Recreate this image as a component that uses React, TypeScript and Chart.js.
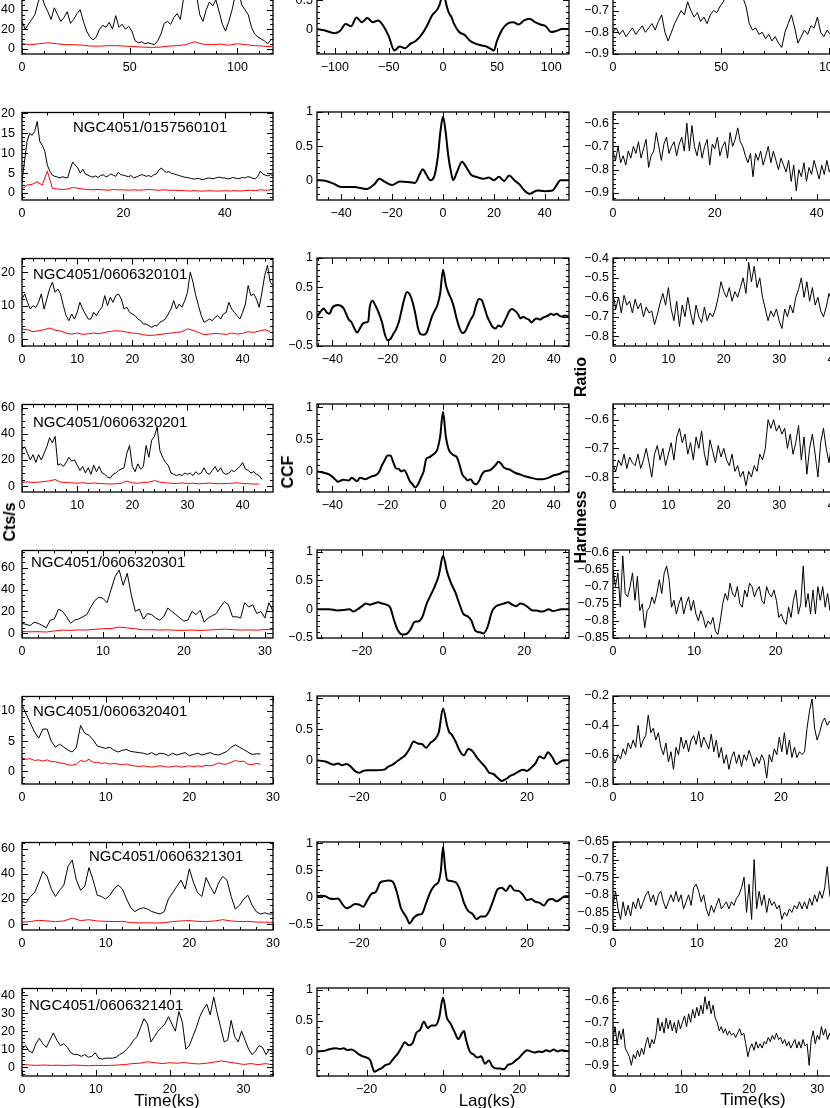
import React, { useEffect, useRef } from "react";
import { Chart, registerables } from "chart.js";

Chart.register(...registerables);

const FONT = "'Liberation Sans', Arial, sans-serif";

// ---------------- Row 1 (top, cropped) ----------------
const r1Bin = 1.5;
const r1Black = [28,20,25,30,35,48,55,45,38,30,42,35,28,32,38,26,30,36,40,28,18,12,9,12,20,24,22,27,20,34,22,25,20,23,18,8,6,7,5,6,5,4,8,15,26,28,25,32,36,30,52,58,50,62,55,35,28,40,48,44,50,38,25,18,28,40,55,60,45,40,35,22,15,12,10,8,5,9];
const r1RedBin = 4;
const r1Red = [5,4,5,6,5,4,4,3.5,2.5,2.5,3,3,2.5,2,1.5,1.2,1.5,2.5,3,4,7,4.5,4,4.5,3.5,5,4,3,2.5,2];
const r1Lag = [-116,-110,-100,-95,-90,-85,-80,-75,-70,-65,-60,-55,-50,-45,-40,-35,-30,-25,-20,-15,-10,-5,-2,0,2,5,8,10,15,20,25,30,35,40,45,47,50,55,60,65,70,75,80,85,90,95,100,105,110,116];
const r1Ccf = [0,-0.02,-0.07,-0.03,0.09,0.05,0.2,0.12,0.19,0.12,0.15,0.05,-0.13,-0.37,-0.3,-0.33,-0.25,-0.2,-0.1,0.05,0.24,0.35,0.5,0.8,0.52,0.3,0.2,0.1,-0.05,-0.1,-0.2,-0.25,-0.28,-0.3,-0.35,-0.37,-0.2,0.0,0.1,0.12,0.08,0.15,0.18,0.12,0.08,0.05,-0.05,-0.03,0,0];
const r1HrBin = 1.5;
const r1Hr = [-0.8,-0.78,-0.81,-0.79,-0.82,-0.8,-0.78,-0.81,-0.79,-0.77,-0.8,-0.78,-0.76,-0.79,-0.75,-0.72,-0.8,-0.84,-0.8,-0.76,-0.73,-0.7,-0.72,-0.66,-0.7,-0.73,-0.71,-0.75,-0.73,-0.76,-0.72,-0.7,-0.71,-0.68,-0.66,-0.62,-0.65,-0.6,-0.63,-0.58,-0.64,-0.68,-0.76,-0.79,-0.78,-0.81,-0.8,-0.83,-0.81,-0.84,-0.82,-0.85,-0.87,-0.8,-0.76,-0.72,-0.78,-0.85,-0.82,-0.79,-0.81,-0.77,-0.78,-0.73,-0.8,-0.82,-0.79,-0.81,-0.8,-0.82,-0.79,-0.81,-0.8,-0.83,-0.8,-0.82,-0.81,-0.8];

// ---------------- Row 2 : NGC4051/0157560101 ----------------
const r2Bin = 0.5;
const r2Black = [3,8,13,15,14.5,15.5,18,13,12,10.5,7,5.5,4.5,4.2,4,3.8,4.1,3.9,3.8,6,7.8,7,6.3,5,6,4.8,4.5,4.2,4,4.3,3.9,4.4,4.6,4.1,4.3,4.8,4.5,4.2,5.2,4.6,4.5,4.3,4.1,4.4,3.8,4,4.3,4.6,4.5,4.2,4.4,4.1,4.6,4.8,5.8,6.3,5.6,5.2,5.4,4.9,4.8,4.6,4.4,4.2,4,3.9,3.8,3.6,3.5,3.7,3.6,3.4,3.5,3.7,3.8,3.6,3.7,3.9,4,3.8,3.8,3.6,3.6,3.9,3.8,3.6,3.7,3.9,3.8,4.1,4,3.7,3.6,4.2,5.5,4.8,4.5,4.3,4.6,4.4];
const r2RedBin = 1;
const r2Red = [1,2,2.2,2.8,2,5.5,1.2,1,0.9,1,1.4,1.2,1,0.9,0.8,0.9,0.8,0.7,0.9,0.8,0.8,0.7,0.8,0.7,0.8,0.9,0.8,0.7,0.8,0.7,0.7,0.6,0.6,0.5,0.6,0.5,0.5,0.6,0.5,0.5,0.6,0.5,0.6,0.5,0.6,0.7,0.6,0.8,0.7,0.8];
const r2Lag = [-49.5,-46,-43,-40,-35,-30,-27,-25,-23,-20,-17,-13,-11,-9,-8,-6.5,-5,-3.5,-2,-1,0,1,2,3,4,5.5,7.5,9,11,13,16,18,20,22,24,26,28,30,32,34,37,40,43,45,46,49.5];
const r2Ccf = [0,-0.01,-0.05,-0.1,-0.1,-0.13,-0.06,0.02,-0.02,-0.07,-0.02,-0.03,-0.04,0.1,0.16,0.08,0,0.05,0.35,0.72,0.93,0.72,0.38,0.15,0,0.12,0.27,0.2,0.08,0.05,0.02,0.04,0,0.05,-0.01,0.07,0,-0.06,-0.15,-0.2,-0.15,-0.16,-0.15,-0.05,0,0];
const r2HrBin = 0.5;
const r2Hr = [-0.72,-0.76,-0.7,-0.77,-0.74,-0.78,-0.72,-0.75,-0.7,-0.73,-0.68,-0.75,-0.71,-0.67,-0.79,-0.74,-0.72,-0.64,-0.7,-0.76,-0.69,-0.66,-0.73,-0.7,-0.68,-0.74,-0.69,-0.66,-0.72,-0.6,-0.72,-0.61,-0.7,-0.74,-0.68,-0.75,-0.7,-0.67,-0.78,-0.69,-0.71,-0.66,-0.74,-0.7,-0.68,-0.75,-0.64,-0.7,-0.67,-0.62,-0.68,-0.7,-0.74,-0.77,-0.73,-0.83,-0.73,-0.76,-0.72,-0.78,-0.74,-0.7,-0.77,-0.72,-0.76,-0.8,-0.75,-0.78,-0.81,-0.76,-0.85,-0.78,-0.89,-0.8,-0.83,-0.77,-0.85,-0.79,-0.82,-0.76,-0.8,-0.84,-0.78,-0.82,-0.76,-0.81,-0.78,-0.83,-0.79,-0.82,-0.8,-0.78,-0.83,-0.8,-0.79,-0.82,-0.78,-0.81,-0.8,-0.79];

// ---------------- Row 3 : NGC4051/0606320101 ----------------
const r3Bin = 0.5;
const r3Black = [12,13.5,11,9,10,9.5,11,13.5,9,12,15,17,14,15,13.5,10,7,5.5,7.5,6,8,11,9,7.5,6,6,8,7,8.5,9.5,13,10,12.5,11,13,13.5,12,9,9.5,8,7.5,7,6,5.5,4.5,4.5,4,3.5,4,4,5,5.5,6,7.5,9,11.5,9,10.5,9.5,11.5,14,20,17,13,10,7,5,5.5,6,5.5,6.5,7,6,7.5,8,11,9,8,7,6,8,10.5,16,13,13.5,12,9.5,14,19,22,17,16];
const r3RedBin = 1;
const r3Red = [3,2.8,2.2,2.5,2.8,3.3,2.7,2.4,1.8,1.5,1.8,1.4,1.6,1.8,1.6,2,2.3,2.5,2.4,2.1,1.8,1.7,1.3,1.1,1.2,1.4,1.6,1.8,2,2.2,3.1,2.6,2,1.3,1.5,1.7,1.6,1.4,1.8,1.5,1.7,2.2,2,2.4,2.8,2.3];
const r3Lag = [-45.5,-44,-43,-42,-41,-40,-38,-36,-35,-34,-33,-32,-31,-30,-29,-28,-27,-26.5,-25.5,-24.5,-23.5,-22,-21,-20,-19,-18,-17,-16,-15,-14,-13,-12,-11,-10,-9,-8,-7,-6,-5,-4,-3,-2,-1,0,1,2,3,4,5,6,7,8,9,10,11,12,13,14,15,16,17,18,19,20,21,22,23,24,25,26,27,28,29,30,31,32,33,34,35,36,37,38,39,40,41,42,43,44,45.5];
const r3Ccf = [0,0.1,0.14,0.07,0.05,0.15,0.2,0.15,0.05,-0.05,-0.1,-0.2,-0.27,-0.2,-0.12,-0.1,-0.08,0.15,0.27,0.2,0.1,-0.1,-0.3,-0.4,-0.38,-0.3,-0.22,-0.1,0.1,0.3,0.42,0.38,0.25,0.05,-0.2,-0.3,-0.31,-0.28,-0.15,0,0.1,0.2,0.4,0.8,0.55,0.4,0.3,0.15,-0.05,-0.2,-0.28,-0.25,-0.15,-0.05,0.03,0.2,0.3,0.28,0.15,0,-0.1,-0.18,-0.2,-0.15,-0.17,-0.1,0,0.1,0.13,0.1,0.05,-0.03,0,-0.03,-0.05,-0.1,-0.05,-0.03,-0.05,-0.02,0,0.02,0.05,0.03,0.05,0.02,0,0.02,0];
const r3HrBin = 0.5;
const r3Hr = [-0.58,-0.66,-0.6,-0.68,-0.59,-0.64,-0.62,-0.68,-0.61,-0.66,-0.63,-0.7,-0.65,-0.68,-0.67,-0.74,-0.69,-0.63,-0.58,-0.64,-0.55,-0.66,-0.72,-0.62,-0.75,-0.64,-0.7,-0.6,-0.68,-0.74,-0.64,-0.7,-0.73,-0.65,-0.72,-0.68,-0.7,-0.66,-0.6,-0.52,-0.57,-0.6,-0.55,-0.62,-0.57,-0.6,-0.55,-0.5,-0.58,-0.42,-0.52,-0.44,-0.55,-0.5,-0.6,-0.66,-0.72,-0.67,-0.7,-0.66,-0.72,-0.76,-0.66,-0.7,-0.64,-0.68,-0.6,-0.56,-0.5,-0.6,-0.52,-0.62,-0.55,-0.64,-0.6,-0.67,-0.7,-0.65,-0.58,-0.62,-0.7,-0.64,-0.6,-0.68,-0.72,-0.63,-0.66,-0.6,-0.65,-0.7,-0.62,-0.66];

// ---------------- Row 4 : NGC4051/0606320201 ----------------
const r4Bin = 0.5;
const r4Black = [28,30,25,20,24,18,24,20,25,30,37,33,38,16,17,15,18,22,19,20,16,12,15,10,14,9,16,11,15,10,9,7,6,9,10,12,13,14,25,31,15,11,17,13,15,31,22,35,38,45,27,22,18,16,10,9,8,9,8,10,9,10,8,11,9,10,14,10,9,12,15,11,14,10,9,10,12,11,13,15,18,13,12,10,11,9,8,5];
const r4RedBin = 1;
const r4Red = [3,3.2,2.8,3,3.5,4,5,3,2.8,2.5,2.2,2.6,2,2.4,2,1.8,1.6,1.8,2.2,3.8,2.5,2.2,2.8,3,4.2,3,2.5,2.2,2,2.4,2,2.2,1.8,2,2.3,2,1.8,2,2.2,2.5,2,1.8,1.6,1.5];
const r4Lag = [-45.5,-43,-41,-39,-38,-36,-34,-33,-31,-30,-28,-26,-24,-23,-22,-21,-20,-19,-18,-17,-16,-15,-14,-13,-12,-11,-10,-9,-8,-7,-6,-5,-4,-3,-2,-1,0,1,2,3,4,5,6,7,8,9,10,11,12,13,14,15,17,19,20,21,22,24,26,28,30,32,34,36,38,40,42,44,45.5];
const r4Ccf = [0,-0.02,-0.05,-0.12,-0.16,-0.13,-0.14,-0.1,-0.15,-0.1,-0.12,-0.08,-0.05,0,0.1,0.18,0.25,0.25,0.15,0.05,0.04,0,0.02,-0.05,-0.15,-0.2,-0.25,-0.2,-0.1,0,0.2,0.22,0.25,0.28,0.35,0.55,0.93,0.55,0.35,0.28,0.25,0.22,0.1,-0.05,-0.1,-0.14,-0.12,-0.18,-0.2,-0.15,-0.05,0,0.02,0.1,0.15,0.12,0.06,0.03,-0.02,-0.05,-0.08,-0.1,-0.12,-0.12,-0.1,-0.06,-0.04,0,0];
const r4HrBin = 0.5;
const r4Hr = [-0.76,-0.78,-0.74,-0.76,-0.72,-0.77,-0.73,-0.75,-0.76,-0.72,-0.77,-0.74,-0.7,-0.75,-0.8,-0.72,-0.69,-0.74,-0.7,-0.76,-0.72,-0.68,-0.74,-0.66,-0.63,-0.68,-0.65,-0.72,-0.68,-0.74,-0.66,-0.7,-0.64,-0.72,-0.76,-0.67,-0.71,-0.75,-0.69,-0.73,-0.7,-0.74,-0.76,-0.72,-0.78,-0.76,-0.8,-0.78,-0.83,-0.78,-0.8,-0.76,-0.78,-0.72,-0.74,-0.7,-0.6,-0.63,-0.6,-0.64,-0.62,-0.65,-0.63,-0.7,-0.65,-0.72,-0.68,-0.62,-0.74,-0.66,-0.79,-0.7,-0.65,-0.72,-0.8,-0.68,-0.63,-0.7,-0.75,-0.68,-0.72,-0.66,-0.7,-0.74,-0.68,-0.71,-0.66,-0.7,-0.73,-0.69,-0.7];

// ---------------- Row 5 : NGC4051/0606320301 ----------------
const r5Bin = 0.5;
const r5Black = [9,8,7,10,9,7,5,12,13,22,20,15,9,12,13,15,17,24,30,33,32,28,40,52,58,44,55,35,20,22,13,18,17,14,12,15,23,20,17,14,11,12,20,17,21,10,14,16,18,24,29,26,15,15,14,28,24,26,18,20,14,28,20];
const r5RedBin = 1;
const r5Red = [1.5,1.2,1.3,1,2,2.8,2.5,3,2.8,3.5,4,4.2,5.5,4.8,4,3,3.2,2.8,3,2.6,2.5,2.8,2.4,2.8,3.2,3.6,3.2,2.8,3,2.7,3.2,3.6];
const r5Lag = [-31,-28,-26,-24,-23,-22,-21,-20,-19,-18,-17,-16,-15,-14,-13,-12,-11,-10,-9,-8,-7,-6,-5,-4,-3,-2,-1,0,1,2,3,4,5,6,7,8,9,10,11,12,13,14,15,16,17,18,19,20,21,22,23,24,25,26,27,28,29,31];
const r5Ccf = [0,0,-0.02,-0.01,0,-0.04,0,0.05,0.1,0.08,0.1,0.12,0.1,0.08,0.03,-0.2,-0.38,-0.44,-0.43,-0.35,-0.22,-0.21,-0.12,0.1,0.25,0.4,0.6,0.93,0.65,0.45,0.3,0.1,-0.08,-0.12,-0.2,-0.38,-0.4,-0.42,-0.3,-0.05,0.05,0.08,0.1,0.12,0.08,0.05,0.1,0.08,0.03,-0.02,-0.02,-0.04,-0.03,0,-0.03,-0.02,0,0];
const r5HrBin = 0.3;
const r5Hr = [-0.65,-0.7,-0.66,-0.76,-0.61,-0.72,-0.73,-0.7,-0.66,-0.74,-0.67,-0.77,-0.75,-0.82,-0.77,-0.76,-0.73,-0.75,-0.72,-0.68,-0.72,-0.66,-0.64,-0.68,-0.76,-0.74,-0.78,-0.75,-0.73,-0.78,-0.75,-0.73,-0.77,-0.74,-0.78,-0.8,-0.77,-0.79,-0.82,-0.8,-0.81,-0.79,-0.83,-0.84,-0.8,-0.75,-0.72,-0.74,-0.69,-0.72,-0.73,-0.7,-0.75,-0.76,-0.71,-0.73,-0.69,-0.7,-0.73,-0.71,-0.7,-0.74,-0.75,-0.7,-0.72,-0.73,-0.71,-0.74,-0.79,-0.78,-0.8,-0.81,-0.76,-0.79,-0.74,-0.71,-0.78,-0.75,-0.64,-0.76,-0.72,-0.78,-0.71,-0.78,-0.7,-0.74,-0.7,-0.76,-0.72,-0.77,-0.7,-0.74,-0.71,-0.76,-0.72,-0.75,-0.7,-0.73,-0.77,-0.72,-0.74,-0.7,-0.73,-0.72];

// ---------------- Row 6 : NGC4051/0606320401 ----------------
const r6Bin = 0.5;
const r6Black = [11,9.5,8,6.5,5.5,7,7,5,4,4.5,4,3.5,3.2,4,7.6,6.3,6,5.2,4.2,4,3.8,4,3.5,3.2,3.5,3.6,3.3,3.2,3.1,3,2.8,3.1,2.7,3,2.9,2.6,3,2.7,2.9,3.1,2.6,2.8,3,2.7,2.9,3.1,2.8,2.7,3,3.3,4,4.4,4,3.6,3.2,2.8,2.9,2.9];
const r6RedBin = 0.5;
const r6Red = [2.2,2,2.1,1.8,1.9,1.7,1.9,1.6,1.6,1.4,1.3,1.1,1,1.2,1.8,1.6,2,1.5,1.5,1.3,1.4,1.2,1.3,1.2,1.1,1.2,1,0.9,0.8,0.9,0.8,0.7,0.8,0.9,0.8,0.7,0.8,0.9,0.7,0.8,0.9,0.8,0.9,0.8,1,0.9,1.1,1.4,1.2,1.2,1.5,1.8,1.6,1.7,1.2,1.1,1.3,1.2];
const r6Lag = [-30,-28,-26,-25,-24,-23,-22,-21,-20,-19,-18,-16,-14,-13,-12,-11,-10,-9,-8,-7,-6,-5,-4,-3,-2,-1,0,1,1.5,2,3,4,5,6,7,8,9,10,11,12,13,14,15,16,17,18,19,20,21,22,23,24,25,26,27,28,29,30];
const r6Ccf = [0,-0.02,-0.07,-0.05,-0.08,-0.06,-0.1,-0.17,-0.2,-0.17,-0.16,-0.16,-0.15,-0.1,-0.07,-0.02,0.03,0.08,0.18,0.3,0.27,0.26,0.2,0.28,0.33,0.45,0.83,0.55,0.45,0.42,0.3,0.15,0.08,0.18,0.15,0.05,-0.03,-0.1,-0.2,-0.22,-0.28,-0.33,-0.3,-0.25,-0.22,-0.18,-0.15,-0.17,-0.12,-0.05,0.06,0.03,0.13,0.05,-0.06,-0.02,0,0];
const r6HrBin = 0.3;
const r6Hr = [-0.62,-0.65,-0.6,-0.63,-0.56,-0.6,-0.52,-0.56,-0.5,-0.55,-0.4,-0.55,-0.5,-0.47,-0.33,-0.45,-0.42,-0.5,-0.45,-0.55,-0.6,-0.52,-0.65,-0.58,-0.7,-0.55,-0.6,-0.48,-0.56,-0.5,-0.58,-0.5,-0.47,-0.53,-0.44,-0.55,-0.48,-0.52,-0.56,-0.46,-0.58,-0.5,-0.62,-0.55,-0.66,-0.6,-0.7,-0.62,-0.58,-0.66,-0.6,-0.68,-0.6,-0.64,-0.57,-0.62,-0.68,-0.62,-0.66,-0.6,-0.64,-0.76,-0.6,-0.65,-0.56,-0.6,-0.48,-0.58,-0.45,-0.6,-0.5,-0.62,-0.55,-0.62,-0.58,-0.6,-0.58,-0.42,-0.3,-0.22,-0.42,-0.5,-0.45,-0.38,-0.35,-0.4,-0.37,-0.43,-0.36,-0.4,-0.45,-0.38,-0.42,-0.36,-0.4,-0.44,-0.38,-0.41,-0.37,-0.42,-0.4];

// ---------------- Row 7 : NGC4051/0606321301 ----------------
const r7Bin = 0.5;
const r7Black = [18,17,22,25,33,42,38,28,22,27,31,46,51,35,27,30,45,35,23,22,20,23,28,31,28,20,13,10,12,13,12,10,9,8,10,20,25,30,35,28,44,33,25,22,37,30,24,33,38,35,22,12,15,20,23,15,10,8,9,8,8];
const r7RedBin = 1;
const r7Red = [1.5,2,3,2.5,2,2.5,4.8,2.8,3.5,2.5,2.2,2,2.2,1.2,1,1,0.9,1.1,2,2.5,2.8,2.2,2,2.5,3.5,2.5,2,2.2,1.6,1.5,1.4];
const r7Lag = [-30,-29,-28,-27,-26,-25,-24,-23,-22,-21,-20,-19,-18,-17,-16,-15,-14,-13,-12,-11,-10,-9,-8.5,-8,-7,-6,-5,-4,-3,-2,-1,-0.5,0,0.5,1,2,3,4,5,6,7,8,9,10,11,12,13,14,15,16,17,18,19,20,21,22,23,24,25,26,27,28,29,30];
const r7Ccf = [0.02,0.03,0.02,-0.02,-0.03,-0.02,-0.12,-0.2,-0.17,-0.12,-0.13,-0.17,-0.05,0.07,0.1,0.27,0.3,0.31,0.29,0.1,-0.2,-0.33,-0.4,-0.48,-0.38,-0.32,-0.3,-0.1,0.1,0.22,0.3,0.5,0.93,0.55,0.32,0.3,0.28,0.15,-0.1,-0.25,-0.3,-0.4,-0.35,-0.35,-0.25,-0.05,0.15,0.18,0.12,0.22,0.13,0.12,0.05,-0.05,-0.03,-0.08,-0.1,-0.15,-0.05,-0.03,-0.07,-0.03,0.02,0.02];
const r7HrBin = 0.3;
const r7Hr = [-0.83,-0.79,-0.84,-0.87,-0.82,-0.86,-0.83,-0.86,-0.82,-0.84,-0.81,-0.84,-0.82,-0.8,-0.79,-0.82,-0.8,-0.83,-0.8,-0.79,-0.82,-0.84,-0.82,-0.8,-0.82,-0.79,-0.82,-0.8,-0.84,-0.82,-0.8,-0.83,-0.78,-0.77,-0.79,-0.82,-0.8,-0.84,-0.86,-0.83,-0.85,-0.83,-0.81,-0.84,-0.83,-0.82,-0.84,-0.82,-0.83,-0.81,-0.8,-0.78,-0.75,-0.85,-0.77,-0.87,-0.7,-0.84,-0.79,-0.83,-0.8,-0.85,-0.81,-0.83,-0.82,-0.84,-0.83,-0.87,-0.85,-0.86,-0.84,-0.85,-0.83,-0.84,-0.82,-0.84,-0.82,-0.84,-0.81,-0.83,-0.8,-0.82,-0.79,-0.81,-0.78,-0.72,-0.8,-0.83,-0.81,-0.84,-0.82,-0.85,-0.81,-0.83,-0.8,-0.84,-0.82,-0.83,-0.81,-0.84,-0.82];

// ---------------- Row 8 : NGC4051/0606321401 ----------------
const r8Bin = 0.4722;
const r8Black = [10,12,9,8,13,16,13,11,15,19,15,12,13,11,8,7,7,6,7,5.5,6,8,5,4.5,5,5,5,5.5,7,8,10,12,15,17,22,27,24,14,17,20,22,24,28,24,20,31,25,10,12,17,22,28,32,35,29,39,30,22,14,15,26,17,14,20,15,10,7,9,12,11,7,10,8];
const r8RedBin = 1;
const r8Red = [1.5,1.2,1,1.2,1,1.1,0.9,1.2,1,0.8,1,0.9,1,1.2,1.5,2,2.2,3,2.5,2,2.5,2.2,2.6,2,1.8,2.2,2.8,3.5,2.8,2.2,1.5,2,1.4,2,1.2];
const r8Lag = [-33,-31,-30,-28,-27,-26,-25,-24,-23,-22,-21,-20,-19,-18.5,-18,-17,-16,-15,-14,-13,-12,-11,-10,-9,-8,-7,-6,-5,-4,-3,-2,-1,0,1,2,3,4,5,5.5,6,7,8,9,10,11,12,13,14,15,16,17,18,19,20,21,22,23,24,25,26,27,28,29,30,31,33];
const r8Ccf = [0,0.01,0.03,0.05,0.04,0.05,0.02,0.03,0,-0.05,-0.08,-0.1,-0.15,-0.25,-0.33,-0.3,-0.27,-0.22,-0.2,-0.12,-0.05,0.05,0.15,0.1,0.13,0.3,0.35,0.48,0.38,0.42,0.42,0.55,0.87,0.55,0.45,0.32,0.2,0.3,0.33,0.2,0,-0.05,-0.1,-0.08,-0.2,-0.15,-0.25,-0.28,-0.28,-0.29,-0.22,-0.2,-0.15,-0.1,-0.03,0.02,0,-0.02,0,-0.01,0.02,0,0.03,0,0.02,0];
const r8HrBin = 0.3;
const r8Hr = [-0.78,-0.72,-0.8,-0.74,-0.78,-0.73,-0.82,-0.84,-0.86,-0.9,-0.85,-0.87,-0.83,-0.86,-0.82,-0.85,-0.8,-0.77,-0.82,-0.78,-0.8,-0.76,-0.68,-0.74,-0.7,-0.75,-0.68,-0.73,-0.69,-0.74,-0.7,-0.75,-0.69,-0.73,-0.7,-0.67,-0.72,-0.66,-0.7,-0.64,-0.68,-0.63,-0.67,-0.62,-0.66,-0.58,-0.64,-0.6,-0.66,-0.62,-0.68,-0.7,-0.74,-0.72,-0.75,-0.73,-0.76,-0.74,-0.76,-0.75,-0.77,-0.75,-0.73,-0.76,-0.75,-0.8,-0.86,-0.82,-0.8,-0.83,-0.79,-0.82,-0.8,-0.82,-0.79,-0.8,-0.77,-0.79,-0.76,-0.78,-0.75,-0.78,-0.77,-0.8,-0.78,-0.81,-0.79,-0.82,-0.8,-0.78,-0.82,-0.79,-0.82,-0.78,-0.81,-0.8,-0.9,-0.78,-0.74,-0.8,-0.76,-0.78,-0.72,-0.76,-0.73,-0.78,-0.75,-0.79,-0.76,-0.8,-0.77,-0.81,-0.78,-0.8,-0.76,-0.79,-0.77,-0.8,-0.78,-0.81,-0.79,-0.77,-0.8,-0.78];

// ---------------- labels ----------------
const obsIds = ["", "NGC4051/0157560101", "NGC4051/0606320101", "NGC4051/0606320201", "NGC4051/0606320301", "NGC4051/0606320401", "NGC4051/0606321301", "NGC4051/0606321401"];

// ---------------- layout ----------------
const COL_LEFT = [22, 317, 613];
const COL_WIDTH = [251, 252, 252];
const ROW_TOP0 = -34;
const ROW_STEP = 146;
const BOX_H = 88;
const PAD = { l: 48, r: 26, t: 14, b: 28 };
const YPAD = [7, 4, 4];
const TICK_SIZE = 12.5;
const TAG_SIZE = 15;

type Line = { pts: { x: number; y: number }[]; color: string; width: number; smooth?: boolean };
type PanelDef = {
  row: number; col: number;
  xr: [number, number]; yr: [number, number];
  xt: [number, number]; yt: [number, number];
  dec: number; lines: Line[];
  tag?: string; tagPos?: [number, number];
};

const binned = (vals: number[], bin: number) => vals.map((v, i) => ({ x: i * bin, y: v }));
const paired = (xs: number[], ys: number[]) => xs.map((x, i) => ({ x, y: ys[i] }));

const lc = (black: number[], bin: number, red: number[], redBin: number): Line[] => [
  { pts: binned(red, redBin), color: "#ff0000", width: 1 },
  { pts: binned(black, bin), color: "#000000", width: 1 },
];
const ccf = (lag: number[], v: number[]): Line[] => [{ pts: paired(lag, v), color: "#000000", width: 2, smooth: true }];
const hr = (v: number[], bin: number): Line[] => [{ pts: binned(v, bin), color: "#000000", width: 1 }];

const PANELS: PanelDef[] = [
  // row 1
  { row: 0, col: 0, xr: [0, 116.5], yr: [-5.6, 84.6], xt: [50, 10], yt: [20, 5], dec: 0, lines: lc(r1Black, r1Bin, r1Red, r1RedBin) },
  { row: 0, col: 1, xr: [-116.5, 116.5], yr: [-0.43, 1.09], xt: [50, 10], yt: [0.5, 0.1], dec: 1, lines: ccf(r1Lag, r1Ccf) },
  { row: 0, col: 2, xr: [0, 116.5], yr: [-0.9, -0.495], xt: [50, 10], yt: [0.1, 0.02], dec: 1, lines: hr(r1Hr, r1HrBin) },
  // row 2
  { row: 1, col: 0, xr: [0, 49.5], yr: [-1.75, 20.25], xt: [20, 5], yt: [5, 1], dec: 0, lines: lc(r2Black, r2Bin, r2Red, r2RedBin), tag: obsIds[1], tagPos: [51, 15] },
  { row: 1, col: 1, xr: [-49.5, 49.5], yr: [-0.29, 1.0], xt: [20, 5], yt: [0.5, 0.1], dec: 1, lines: ccf(r2Lag, r2Ccf) },
  { row: 1, col: 2, xr: [0, 49.5], yr: [-0.93, -0.552], xt: [20, 5], yt: [0.1, 0.02], dec: 1, lines: hr(r2Hr, r2HrBin) },
  // row 3
  { row: 2, col: 0, xr: [0, 45.5], yr: [-2.06, 24.1], xt: [10, 2], yt: [10, 2], dec: 0, lines: lc(r3Black, r3Bin, r3Red, r3RedBin), tag: obsIds[2], tagPos: [11, 16] },
  { row: 2, col: 1, xr: [-45.5, 45.5], yr: [-0.5, 1.0], xt: [20, 5], yt: [0.5, 0.1], dec: 1, lines: ccf(r3Lag, r3Ccf) },
  { row: 2, col: 2, xr: [0, 45.5], yr: [-0.85, -0.398], xt: [10, 2], yt: [0.1, 0.02], dec: 1, lines: hr(r3Hr, r3HrBin) },
  // row 4
  { row: 3, col: 0, xr: [0, 45.5], yr: [-4.5, 62.3], xt: [10, 2], yt: [20, 5], dec: 0, lines: lc(r4Black, r4Bin, r4Red, r4RedBin), tag: obsIds[3], tagPos: [11, 18] },
  { row: 3, col: 1, xr: [-45.5, 45.5], yr: [-0.32, 1.05], xt: [20, 5], yt: [0.5, 0.1], dec: 1, lines: ccf(r4Lag, r4Ccf) },
  { row: 3, col: 2, xr: [0, 45.5], yr: [-0.852, -0.545], xt: [10, 2], yt: [0.1, 0.02], dec: 1, lines: hr(r4Hr, r4HrBin) },
  // row 5
  { row: 4, col: 0, xr: [0, 31], yr: [-4.5, 76], xt: [10, 2], yt: [20, 5], dec: 0, lines: lc(r5Black, r5Bin, r5Red, r5RedBin), tag: obsIds[4], tagPos: [9, 12] },
  { row: 4, col: 1, xr: [-31, 31], yr: [-0.5, 1.03], xt: [20, 5], yt: [0.5, 0.1], dec: 1, lines: ccf(r5Lag, r5Ccf) },
  { row: 4, col: 2, xr: [0, 31], yr: [-0.85, -0.593], xt: [10, 2], yt: [0.05, 0.01], dec: 2, lines: hr(r5Hr, r5HrBin) },
  // row 6
  { row: 5, col: 0, xr: [0, 30], yr: [-2.1, 12.4], xt: [10, 2], yt: [5, 1], dec: 0, lines: lc(r6Black, r6Bin, r6Red, r6RedBin), tag: obsIds[5], tagPos: [11, 15] },
  { row: 5, col: 1, xr: [-30, 30], yr: [-0.38, 1.03], xt: [20, 5], yt: [0.5, 0.1], dec: 1, lines: ccf(r6Lag, r6Ccf) },
  { row: 5, col: 2, xr: [0, 30], yr: [-0.8, -0.2], xt: [10, 2], yt: [0.2, 0.05], dec: 1, lines: hr(r6Hr, r6HrBin) },
  // row 7
  { row: 6, col: 0, xr: [0, 30], yr: [-4.7, 65], xt: [10, 2], yt: [20, 5], dec: 0, lines: lc(r7Black, r7Bin, r7Red, r7RedBin), tag: obsIds[6], tagPos: [67, 14] },
  { row: 6, col: 1, xr: [-30, 30], yr: [-0.6, 1.02], xt: [20, 5], yt: [0.5, 0.1], dec: 1, lines: ccf(r7Lag, r7Ccf) },
  { row: 6, col: 2, xr: [0, 30], yr: [-0.9, -0.65], xt: [10, 2], yt: [0.05, 0.01], dec: 2, lines: hr(r7Hr, r7HrBin) },
  // row 8
  { row: 7, col: 0, xr: [0, 34], yr: [-4.9, 43.7], xt: [10, 2], yt: [10, 2], dec: 0, lines: lc(r8Black, r8Bin, r8Red, r8RedBin), tag: obsIds[7], tagPos: [7, 17] },
  { row: 7, col: 1, xr: [-33, 33], yr: [-0.4, 1.03], xt: [20, 5], yt: [0.5, 0.1], dec: 1, lines: ccf(r8Lag, r8Ccf) },
  { row: 7, col: 2, xr: [0, 37], yr: [-0.95, -0.54], xt: [10, 2], yt: [0.1, 0.02], dec: 1, lines: hr(r8Hr, r8HrBin) },
];

function stepValues(lo: number, hi: number, step: number): number[] {
  const out: number[] = [];
  const a = Math.ceil(lo / step - 1e-6);
  const b = Math.floor(hi / step + 1e-6);
  for (let k = a; k <= b; k++) out.push(Math.round(k * step * 1e6) / 1e6);
  return out;
}
const isMult = (v: number, s: number) => Math.abs(v / s - Math.round(v / s)) < 1e-6;
const fmt = (v: number, d: number) => String(Number(Number(v).toFixed(d))).replace("-", "\u2212");

function framePlugin(p: PanelDef) {
  return {
    id: "frame" + p.row + p.col,
    afterDatasetsDraw(chart: any) {
      const { ctx, chartArea: a } = chart;
      const xs = chart.scales.x;
      const ys = chart.scales.y;
      ctx.save();
      ctx.strokeStyle = "#000";
      ctx.lineWidth = 1;
      ctx.beginPath();
      for (const v of stepValues(p.xr[0], p.xr[1], p.xt[1])) {
        const len = isMult(v, p.xt[0]) ? 6 : 3;
        const px = Math.round(xs.getPixelForValue(v)) + 0.5;
        ctx.moveTo(px, a.bottom);
        ctx.lineTo(px, a.bottom - len);
        ctx.moveTo(px, a.top);
        ctx.lineTo(px, a.top + len);
      }
      for (const v of stepValues(p.yr[0], p.yr[1], p.yt[1])) {
        const len = isMult(v, p.yt[0]) ? 6 : 3;
        const py = Math.round(ys.getPixelForValue(v)) + 0.5;
        ctx.moveTo(a.left, py);
        ctx.lineTo(a.left + len, py);
        ctx.moveTo(a.right, py);
        ctx.lineTo(a.right - len, py);
      }
      ctx.stroke();
      ctx.lineWidth = 1.3;
      ctx.strokeRect(a.left, a.top, a.right - a.left, a.bottom - a.top);
      if (p.tag && p.tagPos) {
        ctx.fillStyle = "#000";
        ctx.font = `${TAG_SIZE}px ${FONT}`;
        ctx.textAlign = "left";
        ctx.textBaseline = "middle";
        ctx.fillText(p.tag, a.left + p.tagPos[0], a.top + p.tagPos[1]);
      }
      ctx.restore();
    },
  };
}

function Panel({ p }: { p: PanelDef }) {
  const ref = useRef<HTMLCanvasElement>(null);
  const w = PAD.l + COL_WIDTH[p.col] + PAD.r;
  const h = PAD.t + BOX_H + PAD.b;
  const left = COL_LEFT[p.col] - PAD.l;
  const top = ROW_TOP0 + p.row * ROW_STEP - PAD.t;

  useEffect(() => {
    if (!ref.current) return;
    const tickFont = { family: FONT, size: TICK_SIZE };
    const chart = new Chart(ref.current, {
      type: "line",
      data: {
        datasets: p.lines.map((l) => ({
          data: l.pts,
          borderColor: l.color,
          borderWidth: l.width,
          pointRadius: 0,
          tension: l.smooth ? 0.4 : 0,
          cubicInterpolationMode: l.smooth ? "monotone" : "default",
          fill: false,
          borderJoinStyle: "round" as const,
        })),
      },
      options: {
        animation: false,
        responsive: false,
        maintainAspectRatio: false,
        devicePixelRatio: 1,
        events: [],
        layout: { padding: { top: PAD.t, right: PAD.r, left: 0, bottom: 0 } },
        plugins: { legend: { display: false }, tooltip: { enabled: false } },
        scales: {
          x: {
            type: "linear",
            bounds: "data",
            min: p.xr[0],
            max: p.xr[1],
            grid: { display: false, drawTicks: false },
            border: { display: false },
            ticks: {
              color: "#000",
              font: tickFont,
              padding: 6,
              autoSkip: false,
              maxRotation: 0,
              minRotation: 0,
              callback: (v: any) => fmt(Number(v), 0),
            },
            afterBuildTicks: (s: any) => {
              s.ticks = stepValues(p.xr[0], p.xr[1], p.xt[0]).map((v) => ({ value: v }));
            },
            afterFit: (s: any) => {
              s.height = PAD.b;
            },
          },
          y: {
            type: "linear",
            bounds: "data",
            min: p.yr[0],
            max: p.yr[1],
            grid: { display: false, drawTicks: false },
            border: { display: false },
            ticks: {
              color: "#000",
              font: tickFont,
              padding: YPAD[p.col],
              autoSkip: false,
              callback: (v: any) => fmt(Number(v), p.dec),
            },
            afterBuildTicks: (s: any) => {
              s.ticks = stepValues(p.yr[0], p.yr[1], p.yt[0]).map((v) => ({ value: v }));
            },
            afterFit: (s: any) => {
              s.width = PAD.l;
            },
          },
        },
      } as any,
      plugins: [framePlugin(p)],
    });
    return () => chart.destroy();
  }, [p]);

  return (
    <canvas
      ref={ref}
      width={w}
      height={h}
      style={{ position: "absolute", left, top, width: w, height: h }}
    />
  );
}

const titleStyle = (x: number, y: number, rot: boolean, bold: boolean, size: number): React.CSSProperties => ({
  position: "absolute",
  left: x,
  top: y,
  transform: `translate(-50%, -50%)${rot ? " rotate(-90deg)" : ""}`,
  fontFamily: FONT,
  fontSize: size,
  fontWeight: bold ? "bold" : "normal",
  whiteSpace: "nowrap",
  color: "#000",
  lineHeight: 1,
});

export default function App() {
  return (
    <div
      style={{
        position: "fixed",
        left: 0,
        top: 0,
        width: 830,
        height: 1108,
        overflow: "hidden",
        background: "#fff",
      }}
    >
      {PANELS.map((p, i) => (
        <Panel key={i} p={p} />
      ))}
      <div style={titleStyle(10, 522, true, true, 16)}>Cts/s</div>
      <div style={titleStyle(288, 472, true, true, 16)}>CCF</div>
      <div style={titleStyle(581, 377, true, true, 16)}>Ratio</div>
      <div style={titleStyle(581, 527, true, true, 16)}>Hardness</div>
      <div style={titleStyle(167, 1100, false, false, 17)}>Time(ks)</div>
      <div style={titleStyle(487, 1100, false, false, 17)}>Lag(ks)</div>
      <div style={titleStyle(753, 1099, false, false, 17)}>Time(ks)</div>
    </div>
  );
}
